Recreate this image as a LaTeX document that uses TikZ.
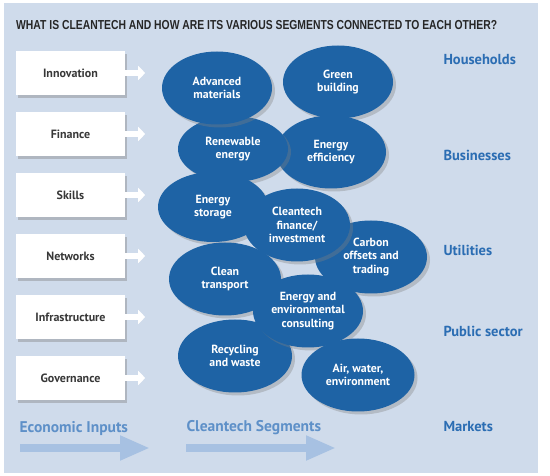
\documentclass[tikz,border=0pt]{standalone}
\usepackage{fontspec}
\usepackage{graphicx}
\setmainfont{PT Sans}
\newfontfamily\titlefont{Liberation Sans}
\usetikzlibrary{positioning,shapes.geometric,shadows,arrows.meta}

\definecolor{panelbg}{HTML}{CFDBEB}
\definecolor{segblue}{HTML}{1E63A5}
\definecolor{marketblue}{HTML}{2B6DB3}
\definecolor{flowtext}{HTML}{5E90C8}
\definecolor{flowarrow}{HTML}{A7C1E2}
\definecolor{boxtext}{HTML}{383838}
\definecolor{titlegray}{HTML}{262626}

\tikzset{
  inputbox/.style={draw=none, fill=white, minimum width=109pt, minimum height=44pt,
    text=boxtext, font=\bfseries\fontsize{12}{13}\selectfont,
    drop shadow={shadow xshift=2pt, shadow yshift=-3pt, opacity=0.4}},
  inarrow/.style={white, line width=6pt, -{Triangle[length=7pt,width=14pt]}},
  segment/.style={ellipse, fill=segblue, inner sep=0pt, minimum width=110pt, minimum height=73pt,
    text=white, align=center, font=\bfseries\fontsize{11.8}{13.5}\selectfont,
    drop shadow={shadow xshift=3pt, shadow yshift=-3pt, opacity=0.35}},
  market/.style={anchor=west, text=marketblue, font=\bfseries\fontsize{14.5}{16}\selectfont},
  flowlabel/.style={anchor=west, text=flowtext, font=\bfseries\fontsize{15.5}{17}\selectfont},
  flowline/.style={flowarrow, line width=8pt, -{Triangle[length=30pt,width=23pt]}}
}

\begin{document}
\begin{tikzpicture}[x=1pt, y=-1pt]
 \useasboundingbox (0,0) rectangle (550,476);
 \fill[panelbg] (4,3) rectangle (538,473);
 \node[anchor=west, text=titlegray, inner sep=0pt, font=\titlefont\bfseries\fontsize{13}{15}\selectfont] (title) at (16,25)
   {\resizebox{481pt}{\height}{WHAT IS CLEANTECH AND HOW ARE ITS VARIOUS SEGMENTS CONNECTED TO EACH OTHER?}};

 % economic inputs
 \node[inputbox] (innov) at (70.5,73) {Innovation};
 \node[inputbox] (fin)   at (70.5,134) {Finance};
 \node[inputbox] (skill) at (70.5,195) {Skills};
 \node[inputbox] (netw)  at (70.5,256) {Networks};
 \node[inputbox] (infra) at (70.5,317) {Infrastructure};
 \node[inputbox] (gov)   at (70.5,378) {Governance};
 \coordinate[right=20pt of innov] (innovT);
 \coordinate[right=20pt of fin]   (finT);
 \coordinate[right=20pt of skill] (skillT);
 \coordinate[right=20pt of netw]  (netwT);
 \coordinate[right=20pt of infra] (infraT);
 \coordinate[right=20pt of gov]   (govT);
 \draw[inarrow] (innov) -- (innovT);
 \draw[inarrow] (fin) -- (finT);
 \draw[inarrow] (skill) -- (skillT);
 \draw[inarrow] (netw) -- (netwT);
 \draw[inarrow] (infra) -- (infraT);
 \draw[inarrow] (gov) -- (govT);

 % cleantech segments
 \node[segment] (green)   at (338,82)  {Green\\building};
 \node[segment] (effic)   at (331,152) {Energy\\efficiency};
 \node[segment, minimum height=66pt] (renew) at (233,149) {Renewable\\energy};
 \node[segment] (advmat)  at (217,88)  {Advanced\\materials};
 \node[segment, minimum width=112pt] (carbon) at (371,257) {Carbon\\offsets and\\trading};
 \node[segment, minimum height=70pt] (storage) at (213,207) {Energy\\storage};
 \node[segment, minimum width=106pt] (ctfin) at (297,225) {Cleantech\\finance/\\investment};
 \node[segment, minimum width=112pt] (transp) at (225,279) {Clean\\transport};
 \node[segment, minimum width=114pt] (recyc) at (235,356) {Recycling\\and waste};
 \node[segment] (consult) at (308,311) {Energy and\\environmental\\consulting};
 \node[segment, minimum width=113pt] (airwat) at (358,375) {Air, water,\\environment};

 % markets
 \node[market] (house) at (440,60)  {Households};
 \node[market] (busi)  at (440,155) {Businesses};
 \node[market] (util)  at (440,250) {Utilities};
 \node[market] (publ)  at (440,331) {Public sector};
 \node[market] (mark)  at (440,427) {Markets};

 % flow arrows
 \node[flowlabel] (econ) at (16,429) {Economic Inputs};
 \node[flowlabel] (segs) at (183,428) {Cleantech Segments};
 \coordinate (econS) at (20,448);
 \coordinate (econE) at (150,448);
 \coordinate (segsS) at (186,448);
 \coordinate (segsE) at (336,448);
 \draw[flowline] (econS) -- (econE);
 \draw[flowline] (segsS) -- (segsE);
\end{tikzpicture}
\end{document}
